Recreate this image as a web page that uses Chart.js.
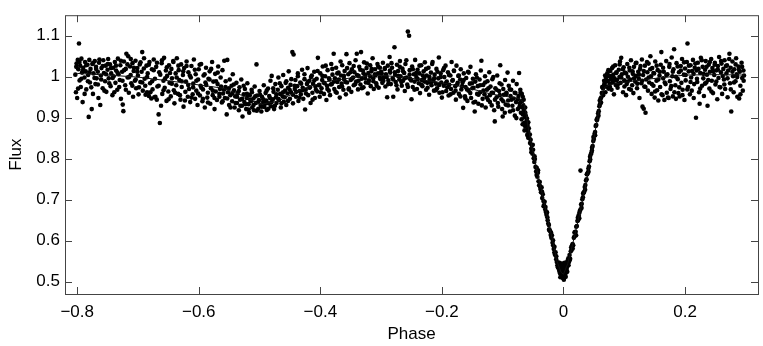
<!DOCTYPE html>
<html>
<head>
<meta charset="utf-8">
<script src="https://cdn.jsdelivr.net/npm/chart.js@4.4.1/dist/chart.umd.min.js"></script>
<style>
  html, body { margin: 0; padding: 0; background: #fff; }
  #wrap { width: 763px; height: 346px; }
</style>
</head>
<body>
<div id="wrap"><canvas id="chart"></canvas></div>
<script>
// tick labels / axis ranges
const xTicks = [-0.8, -0.6, -0.4, -0.2, 0, 0.2];
const yTicks = [0.5, 0.6, 0.7, 0.8, 0.9, 1, 1.1];

// fitted light curve (phase, flux)
const modelPhase = [-0.80, -0.75, -0.70, -0.65, -0.60, -0.56, -0.53, -0.50, -0.47, -0.43, -0.39, -0.35, -0.31, -0.27, -0.24, -0.20, -0.17, -0.14, -0.12, -0.10, -0.08, -0.07, -0.065, -0.061, -0.0586, -0.0504, -0.042, -0.034, -0.0258, -0.0176, -0.011, -0.004, 0, 0.007, 0.015, 0.0235, 0.0317, 0.040, 0.048, 0.0564, 0.062, 0.067, 0.075, 0.10, 0.13, 0.16, 0.20, 0.25, 0.297];
const modelFlux = [1.008, 1.004, 0.999, 0.99, 0.98, 0.972, 0.955, 0.932, 0.94, 0.97, 0.988, 0.997, 1.004, 1.0, 0.994, 0.985, 0.977, 0.966, 0.958, 0.953, 0.949, 0.945, 0.935, 0.905, 0.88, 0.817, 0.762, 0.708, 0.653, 0.598, 0.551, 0.523, 0.518, 0.544, 0.591, 0.645, 0.70, 0.762, 0.833, 0.903, 0.95, 0.973, 0.98, 0.986, 0.993, 0.997, 1.004, 1.005, 1.004];

// observed points, [phase, flux]
const obsEarly = [
  [-0.803,1.005],[-0.802,0.962],[-0.801,1.032],[-0.800,0.948],[-0.799,1.041],[-0.798,1.018],[-0.797,1.081],[-0.796,0.991],[-0.795,1.027],[-0.794,0.975],
  [-0.793,1.044],[-0.792,1.010],[-0.791,0.938],[-0.790,1.022],[-0.788,0.998],[-0.787,1.036],[-0.786,1.013],[-0.785,0.969],[-0.783,1.029],[-0.782,1.004],
  [-0.781,0.902],[-0.780,1.041],[-0.779,0.986],[-0.778,1.019],[-0.776,0.921],[-0.775,1.031],[-0.774,0.958],[-0.773,1.008],[-0.771,1.038],[-0.770,0.982],
  [-0.769,1.024],[-0.768,0.996],[-0.766,1.012],[-0.765,0.948],[-0.764,1.034],[-0.762,0.931],[-0.761,1.003],[-0.760,1.021],[-0.758,0.972],[-0.757,1.040],
  [-0.756,1.009],[-0.754,0.989],[-0.753,1.027],[-0.752,0.963],[-0.750,1.017],[-0.749,1.043],[-0.748,0.996],[-0.746,1.030],[-0.745,0.977],[-0.744,1.008],
  [-0.742,0.955],[-0.741,1.022],[-0.740,1.001],[-0.738,1.036],[-0.737,0.985],[-0.736,1.015],[-0.734,0.968],[-0.733,1.044],[-0.732,1.006],[-0.730,0.992],
  [-0.729,1.028],[-0.728,0.946],[-0.726,1.012],[-0.725,0.932],[-0.724,0.916],[-0.723,1.037],[-0.721,0.979],[-0.720,1.019],[-0.719,1.056],[-0.717,0.998],
  [-0.716,1.050],[-0.715,0.961],[-0.713,1.025],[-0.712,1.004],[-0.711,0.984],[-0.709,1.033],[-0.708,0.951],[-0.707,1.014],[-0.705,0.990],[-0.704,1.039],
  [-0.703,0.972],[-0.701,1.021],[-0.700,1.003],[-0.699,0.957],[-0.697,1.030],[-0.696,0.987],[-0.694,1.012],[-0.693,1.060],[-0.692,0.966],[-0.690,1.045],
  [-0.689,0.995],[-0.688,0.978],[-0.686,1.027],[-0.685,0.962],[-0.684,1.008],[-0.682,0.953],[-0.681,1.036],[-0.680,0.984],[-0.678,0.947],[-0.677,1.018],
  [-0.676,0.969],[-0.674,1.042],[-0.673,0.950],[-0.672,0.995],[-0.670,1.024],[-0.669,0.944],[-0.668,0.976],[-0.666,0.908],[-0.665,1.011],[-0.664,0.887],
  [-0.662,0.929],[-0.661,1.033],[-0.660,0.958],[-0.658,0.990],[-0.657,1.046],[-0.656,0.973],[-0.654,1.015],[-0.653,0.941],[-0.652,1.002],[-0.650,0.964],
  [-0.649,1.028],[-0.648,0.985],[-0.646,0.952],[-0.645,1.019],[-0.644,0.996],[-0.642,1.038],[-0.641,0.967],[-0.640,0.935],[-0.638,1.008],[-0.637,0.979],
  [-0.636,1.045],[-0.634,0.958],[-0.633,1.016],[-0.632,0.992],[-0.630,0.944],[-0.629,1.030],[-0.628,0.975],[-0.626,1.004],[-0.625,0.927],[-0.624,1.021],
  [-0.622,0.963],[-0.621,0.988],[-0.620,1.037],[-0.618,0.951],[-0.617,1.011],[-0.616,0.970],[-0.614,0.938],[-0.613,0.998],[-0.612,1.026],[-0.610,0.957],
  [-0.609,0.983],[-0.608,1.042],[-0.606,0.946],[-0.605,1.006],[-0.604,0.966],[-0.602,0.931],[-0.601,0.993],[-0.600,1.018],[-0.598,0.954],[-0.597,0.978],
  [-0.596,1.031],[-0.594,0.940],[-0.593,0.969],[-0.592,1.003],[-0.590,0.925],[-0.589,0.986],[-0.588,1.022],[-0.586,0.949],[-0.585,0.961],[-0.584,0.995],
  [-0.582,1.013],[-0.581,0.934],[-0.580,0.972],[-0.578,1.036],[-0.577,0.955],[-0.576,0.988],[-0.574,0.921],[-0.573,1.007],[-0.572,0.964],[-0.570,0.943],
  [-0.569,0.982],[-0.568,1.025],[-0.566,0.951],[-0.565,0.970],[-0.564,0.998],[-0.562,0.937],[-0.561,1.016],[-0.560,0.959],
  [-0.8015,1.024],[-0.7985,0.971],[-0.7962,1.036],[-0.7931,0.995],[-0.7904,1.015],[-0.7877,0.958],[-0.7851,1.028],[-0.7823,0.989],[-0.7796,1.011],[-0.7768,0.974],
  [-0.7741,1.033],[-0.7715,0.997],[-0.7688,1.019],[-0.7659,0.981],[-0.7634,1.042],[-0.7605,0.993],[-0.7579,1.026],[-0.7552,0.966],[-0.7524,1.006],[-0.7497,1.031],
  [-0.7471,0.984],[-0.7443,1.021],[-0.7416,0.997],[-0.7389,0.962],[-0.7362,1.027],[-0.7336,1.010],[-0.7308,0.975],[-0.7281,1.039],[-0.7254,0.990],[-0.7227,1.016],
  [-0.7199,0.968],[-0.7173,1.030],[-0.7146,0.999],[-0.7118,1.043],[-0.7092,0.978],[-0.7065,1.022],[-0.7037,0.993],[-0.7011,1.012],[-0.6983,0.974],[-0.6957,1.035],
  [-0.6929,0.986],[-0.6903,1.020],[-0.6875,0.956],[-0.6849,0.999],[-0.6821,1.029],[-0.6795,0.962],[-0.6767,0.989],[-0.6741,1.016],[-0.6713,0.951],[-0.6687,1.034],
  [-0.6659,0.978],[-0.6633,1.005],[-0.6605,1.040],[-0.6579,0.967],[-0.6551,0.996],[-0.6525,1.023],[-0.6497,0.945],[-0.6471,1.009],[-0.6443,0.983],[-0.6417,1.036],
  [-0.6389,0.961],[-0.6363,0.998],[-0.6335,1.027],[-0.6309,0.955],[-0.6281,0.989],[-0.6255,1.013],[-0.6227,0.942],[-0.6201,1.026],[-0.6173,0.980],[-0.6147,1.003],
  [-0.6119,0.949],[-0.6093,0.974],[-0.6065,1.017],[-0.6039,0.990],[-0.6011,0.959],[-0.5985,1.029],[-0.5957,0.973],[-0.5931,0.946],[-0.5903,1.006],[-0.5877,0.980],
  [-0.5849,0.937],[-0.5823,0.993],[-0.5795,1.019],[-0.5769,0.966],[-0.5741,0.948],[-0.5715,0.989],[-0.5687,1.010],[-0.5661,0.958],[-0.5633,0.976],[-0.5607,0.940]
];

const obsMid = [
  [-0.558,1.039],[-0.557,0.948],[-0.556,0.975],[-0.554,0.908],[-0.553,1.041],[-0.552,0.962],[-0.550,0.931],[-0.549,0.993],[-0.548,0.955],[-0.546,0.978],
  [-0.545,0.940],[-0.544,1.006],[-0.542,0.967],[-0.541,0.925],[-0.540,0.952],[-0.538,0.985],[-0.537,0.936],[-0.536,0.960],[-0.534,0.918],[-0.533,0.974],
  [-0.532,0.944],[-0.530,0.993],[-0.529,0.929],[-0.528,0.903],[-0.526,0.957],[-0.525,0.938],[-0.524,0.970],[-0.522,0.921],[-0.521,0.948],[-0.520,0.984],
  [-0.518,0.933],[-0.517,0.912],[-0.516,0.955],[-0.514,0.940],[-0.513,0.968],[-0.512,0.925],[-0.510,0.947],[-0.509,0.918],[-0.508,0.976],[-0.506,0.936],
  [-0.505,1.030],[-0.504,0.954],[-0.502,0.922],[-0.501,0.943],[-0.500,0.965],[-0.498,0.930],[-0.497,0.915],[-0.496,0.951],[-0.494,0.938],[-0.493,0.979],
  [-0.492,0.926],[-0.490,0.960],[-0.489,0.942],[-0.488,0.919],[-0.486,0.971],[-0.485,0.935],[-0.484,0.953],[-0.482,0.990],[-0.481,0.928],[-0.480,1.002],
  [-0.478,0.945],[-0.477,0.963],[-0.476,0.921],[-0.474,0.982],[-0.473,0.950],[-0.472,0.936],[-0.470,0.968],[-0.469,0.998],[-0.468,0.943],[-0.466,0.958],
  [-0.465,0.925],[-0.464,0.977],[-0.462,0.952],[-0.461,1.004],[-0.460,0.939],[-0.458,0.966],[-0.457,0.985],[-0.456,0.931],[-0.454,0.959],[-0.453,0.973],
  [-0.452,1.013],[-0.450,0.946],[-0.449,0.980],[-0.448,0.962],[-0.446,1.060],[-0.445,0.935],[-0.444,1.054],[-0.442,0.970],[-0.441,0.992],[-0.440,0.951],
  [-0.438,0.977],[-0.437,1.008],[-0.436,0.941],[-0.434,0.965],[-0.433,0.986],[-0.432,0.957],[-0.430,1.017],[-0.429,0.973],[-0.428,0.946],[-0.426,0.994],
  [-0.425,0.920],[-0.424,0.968],[-0.422,0.982],[-0.421,1.021],[-0.420,0.955],[-0.418,0.990],[-0.417,0.974],[-0.416,0.936],[-0.414,1.003],[-0.413,0.961],
  [-0.412,0.983],[-0.410,1.012],[-0.409,0.948],[-0.408,0.976],[-0.406,0.995],[-0.405,0.964],[-0.404,1.046],[-0.402,0.980],[-0.401,0.951],[-0.400,1.008],
  [-0.398,0.972],[-0.397,0.992],[-0.396,1.025],[-0.394,0.958],[-0.393,0.984],[-0.392,1.001],[-0.390,0.943],[-0.389,0.978],[-0.388,1.016],[-0.386,0.966],
  [-0.385,0.993],[-0.384,0.955],[-0.382,1.031],[-0.381,0.982],[-0.380,1.005],[-0.378,1.056],[-0.377,0.970],[-0.376,0.996],[-0.374,1.022],[-0.373,0.961],
  [-0.372,0.987],[-0.370,1.010],[-0.369,0.975],[-0.368,0.949],[-0.366,1.003],[-0.365,0.983],[-0.364,1.028],[-0.362,0.968],[-0.361,0.994],[-0.360,1.014],
  [-0.358,0.957],[-0.357,1.055],[-0.356,0.986],[-0.354,1.006],[-0.353,0.972],[-0.352,1.033],[-0.350,0.992],[-0.349,0.963],[-0.348,1.018],[-0.346,0.998],
  [-0.345,0.979],[-0.344,1.011],[-0.342,1.040],[-0.341,0.988],[-0.340,1.056],[-0.338,0.969],[-0.337,1.002],[-0.336,1.024],[-0.334,0.981],[-0.333,1.060],
  [-0.332,0.995],[-0.330,1.015],[-0.329,0.974],[-0.328,1.035],[-0.326,1.004],[-0.325,0.986],[-0.324,1.021],[-0.322,0.959],[-0.321,1.009],[-0.320,0.991],
  [-0.318,1.028],[-0.317,0.977],[-0.316,1.013],[-0.314,1.045],[-0.313,0.996],[-0.312,0.970],[-0.310,1.018],[-0.309,1.003],[-0.308,0.984],[-0.306,1.031],
  [-0.305,1.008],[-0.304,0.973],[-0.302,1.022],[-0.301,0.994],
  [-0.5585,0.968],[-0.5557,0.989],[-0.5531,0.947],[-0.5503,0.972],[-0.5477,0.925],[-0.5449,0.959],[-0.5423,0.981],[-0.5395,0.936],[-0.5369,0.951],[-0.5341,0.965],
  [-0.5315,0.929],[-0.5287,0.946],[-0.5261,0.978],[-0.5233,0.933],[-0.5207,0.958],[-0.5179,0.920],[-0.5153,0.944],[-0.5125,0.962],[-0.5099,0.931],[-0.5071,0.952],
  [-0.5045,0.917],[-0.5017,0.939],[-0.4991,0.956],[-0.4963,0.927],[-0.4937,0.945],[-0.4909,0.934],[-0.4883,0.966],[-0.4855,0.922],[-0.4829,0.948],[-0.4801,0.938],
  [-0.4775,0.972],[-0.4747,0.929],[-0.4721,0.957],[-0.4693,0.946],[-0.4667,0.984],[-0.4639,0.935],[-0.4613,0.962],[-0.4585,0.950],[-0.4559,0.989],[-0.4531,0.941],
  [-0.4505,0.968],[-0.4477,0.994],[-0.4451,0.956],[-0.4423,0.978],[-0.4397,0.963],[-0.4369,1.001],[-0.4343,0.949],[-0.4315,0.983],[-0.4289,0.967],[-0.4261,1.006],
  [-0.4235,0.959],[-0.4207,0.987],[-0.4181,0.973],[-0.4153,0.999],[-0.4127,0.944],[-0.4099,0.991],[-0.4073,0.968],[-0.4045,1.014],[-0.4019,0.979],[-0.3991,0.962],
  [-0.3965,1.002],[-0.3937,0.985],[-0.3911,1.027],[-0.3883,0.970],[-0.3857,0.996],[-0.3829,0.981],[-0.3803,1.019],[-0.3775,0.988],[-0.3749,0.963],[-0.3721,1.008],
  [-0.3695,0.993],[-0.3667,1.037],[-0.3641,0.976],[-0.3613,1.002],[-0.3587,0.987],[-0.3559,1.021],[-0.3533,0.969],[-0.3505,1.011],[-0.3479,0.995],[-0.3451,1.026],
  [-0.3425,0.982],[-0.3397,1.004],[-0.3371,0.990],[-0.3343,1.017],[-0.3317,0.972],[-0.3289,1.008],[-0.3263,0.996],[-0.3235,1.032],[-0.3209,0.985],[-0.3181,1.001],
  [-0.3155,1.019],[-0.3127,0.989],[-0.3101,1.006],[-0.3073,0.978],[-0.3047,1.024],[-0.3019,0.998]
];

const obsLate = [
  [-0.300,1.012],[-0.298,0.985],[-0.297,1.034],[-0.296,0.998],[-0.294,1.019],[-0.293,0.976],[-0.292,1.006],[-0.290,0.950],[-0.289,1.027],[-0.288,0.991],
  [-0.286,1.048],[-0.285,1.010],[-0.284,0.982],[-0.282,1.022],[-0.281,0.996],[-0.280,0.951],[-0.278,1.072],[-0.277,1.004],[-0.276,0.987],[-0.274,1.029],
  [-0.273,0.969],[-0.272,1.014],[-0.270,0.993],[-0.269,1.038],[-0.268,1.001],[-0.266,0.978],[-0.265,1.020],[-0.264,0.990],[-0.262,1.009],[-0.261,0.965],
  [-0.260,1.031],[-0.258,0.998],[-0.257,0.981],[-0.256,1.110],[-0.254,1.100],[-0.253,1.016],[-0.252,0.994],[-0.250,0.945],[-0.249,1.025],[-0.248,0.975],
  [-0.246,1.006],[-0.245,0.988],[-0.244,1.041],[-0.242,0.999],[-0.241,0.970],[-0.240,1.017],[-0.238,0.984],[-0.237,1.008],[-0.236,0.960],[-0.234,1.028],
  [-0.233,0.992],[-0.232,0.977],[-0.230,1.013],[-0.229,0.997],[-0.228,1.035],[-0.226,0.968],[-0.225,1.003],[-0.224,0.985],[-0.222,1.022],[-0.221,0.956],
  [-0.220,0.994],[-0.218,1.010],[-0.217,0.979],[-0.216,1.031],[-0.214,0.990],[-0.213,0.966],[-0.212,1.005],[-0.210,0.983],[-0.209,1.019],[-0.208,0.972],
  [-0.206,0.996],[-0.205,1.047],[-0.204,0.961],[-0.202,1.008],[-0.201,0.986],[-0.200,0.949],[-0.198,1.016],[-0.197,0.978],[-0.196,0.999],[-0.194,1.027],
  [-0.193,0.965],[-0.192,0.988],[-0.190,1.011],[-0.189,0.954],[-0.188,0.980],[-0.186,1.003],[-0.185,0.970],[-0.184,1.036],[-0.182,0.992],[-0.181,0.961],
  [-0.180,1.014],[-0.178,0.977],[-0.177,0.944],[-0.176,1.027],[-0.174,0.985],[-0.173,1.002],[-0.172,0.958],[-0.170,0.993],[-0.169,1.018],[-0.168,0.969],
  [-0.166,0.986],[-0.165,0.924],[-0.164,1.008],[-0.162,0.952],[-0.161,0.975],[-0.160,0.997],[-0.158,0.941],[-0.157,1.012],[-0.156,0.966],[-0.154,0.983],
  [-0.153,1.024],[-0.152,0.948],[-0.150,0.972],[-0.149,0.995],[-0.148,0.937],[-0.146,0.915],[-0.145,0.988],[-0.144,1.006],[-0.142,0.958],[-0.141,0.977],
  [-0.140,0.934],[-0.138,0.993],[-0.137,0.962],[-0.136,1.015],[-0.135,1.039],[-0.133,0.946],[-0.132,0.980],[-0.130,0.957],[-0.129,1.001],[-0.128,0.925],
  [-0.126,0.968],[-0.125,0.989],[-0.124,0.943],[-0.122,1.011],[-0.121,0.955],[-0.120,0.976],[-0.118,0.930],[-0.117,0.994],[-0.116,0.961],[-0.114,0.918],
  [-0.113,0.891],[-0.112,0.972],[-0.110,0.950],[-0.109,1.003],[-0.108,0.936],[-0.106,0.965],[-0.105,0.984],[-0.104,1.028],[-0.102,0.945],[-0.101,0.921],
  [-0.100,0.903],[-0.099,0.970],[-0.098,0.956],[-0.096,0.992],[-0.095,0.932],[-0.094,0.961],[-0.092,1.010],[-0.091,0.942],[-0.090,0.978],[-0.088,0.915],
  [-0.087,0.953],[-0.086,0.968],[-0.084,0.929],[-0.083,0.990],[-0.082,0.947],[-0.080,0.905],[-0.079,0.960],[-0.078,0.938],[-0.077,0.982],[-0.075,0.921],
  [-0.074,0.953],[-0.073,1.009],[-0.072,0.935],[-0.071,0.968],
  [-0.2991,1.008],[-0.2963,0.990],[-0.2937,1.021],[-0.2909,0.999],[-0.2883,0.982],[-0.2855,1.015],[-0.2829,1.033],[-0.2801,0.993],[-0.2775,1.011],[-0.2747,0.979],
  [-0.2721,1.002],[-0.2693,1.024],[-0.2667,0.987],[-0.2639,1.013],[-0.2613,0.996],[-0.2585,1.040],[-0.2559,0.975],[-0.2531,1.005],[-0.2505,0.991],[-0.2477,1.018],
  [-0.2451,0.968],[-0.2423,1.009],[-0.2397,0.994],[-0.2369,1.027],[-0.2343,0.981],[-0.2315,1.003],[-0.2289,0.988],[-0.2261,1.019],[-0.2235,0.973],[-0.2207,1.000],
  [-0.2181,0.985],[-0.2153,1.036],[-0.2127,0.996],[-0.2099,0.967],[-0.2073,1.012],[-0.2045,0.980],[-0.2019,0.999],[-0.1991,0.962],[-0.1965,1.021],[-0.1937,0.984],
  [-0.1911,0.974],[-0.1883,1.004],[-0.1857,0.957],[-0.1829,0.990],[-0.1803,1.015],[-0.1775,0.966],[-0.1749,0.981],[-0.1721,1.003],[-0.1695,0.952],[-0.1667,0.977],
  [-0.1641,0.992],[-0.1613,0.947],[-0.1587,0.969],[-0.1559,1.010],[-0.1533,0.960],[-0.1505,0.984],[-0.1479,0.973],[-0.1451,0.939],[-0.1425,0.998],[-0.1397,0.956],
  [-0.1371,0.979],[-0.1343,0.930],[-0.1317,0.966],[-0.1289,0.986],[-0.1263,0.949],[-0.1235,0.972],[-0.1209,0.938],[-0.1181,0.961],[-0.1155,0.999],[-0.1127,0.944],
  [-0.1101,0.968],[-0.1073,0.927],[-0.1047,0.955],[-0.1019,0.981],[-0.0991,0.940],[-0.0965,0.912],[-0.0937,0.958],[-0.0911,0.930],[-0.0883,0.969],[-0.0857,0.944],
  [-0.0829,0.918],[-0.0801,0.961],[-0.0775,0.899],[-0.0749,0.945],[-0.0723,0.927],[-0.0707,0.961]
];

const obsEclipse = [
  [-0.070,0.912],[-0.069,0.940],[-0.069,0.896],[-0.068,0.925],[-0.067,0.951],[-0.067,0.908],[-0.066,0.930],[-0.065,0.887],[-0.065,0.918],[-0.064,0.901],
  [-0.063,0.925],[-0.063,0.879],[-0.062,0.905],[-0.061,0.891],[-0.060,0.870],[-0.060,0.898],[-0.059,0.882],[-0.058,0.866],[-0.058,0.851],[-0.057,0.874],
  [-0.056,0.850],[-0.055,0.838],[-0.054,0.846],[-0.053,0.824],[-0.052,0.833],[-0.051,0.812],[-0.050,0.822],[-0.049,0.801],[-0.048,0.792],[-0.047,0.799],
  [-0.046,0.780],[-0.045,0.769],[-0.044,0.778],[-0.043,0.756],[-0.042,0.766],[-0.041,0.745],[-0.040,0.735],[-0.039,0.743],[-0.038,0.726],[-0.037,0.718],
  [-0.036,0.730],[-0.035,0.704],[-0.034,0.713],[-0.033,0.697],[-0.032,0.687],[-0.031,0.695],[-0.030,0.676],[-0.029,0.670],[-0.028,0.663],[-0.027,0.669],
  [-0.026,0.650],[-0.025,0.642],[-0.024,0.638],[-0.023,0.627],[-0.022,0.623],[-0.021,0.614],[-0.020,0.607],[-0.019,0.613],[-0.018,0.595],[-0.017,0.589],
  [-0.016,0.580],[-0.015,0.571],[-0.014,0.566],[-0.013,0.572],[-0.012,0.555],[-0.011,0.548],[-0.010,0.540],[-0.009,0.547],[-0.008,0.533],[-0.007,0.527],
  [-0.006,0.538],[-0.006,0.521],[-0.005,0.530],[-0.004,0.515],[-0.004,0.526],[-0.003,0.540],[-0.003,0.518],[-0.002,0.524],[-0.002,0.533],[-0.001,0.509],
  [-0.001,0.521],[0.000,0.528],[0.000,0.514],[0.001,0.536],[0.001,0.520],[0.002,0.511],[0.002,0.527],[0.003,0.532],[0.003,0.519],[0.004,0.542],
  [0.004,0.525],[0.005,0.530],[0.005,0.547],[0.006,0.536],[0.007,0.552],[0.007,0.541],[0.008,0.557],[0.009,0.548],[0.010,0.565],[0.011,0.556],
  [0.012,0.574],[0.013,0.577],[0.014,0.588],[0.015,0.592],[0.016,0.589],[0.017,0.607],[0.018,0.610],[0.019,0.621],[0.020,0.622],[0.021,0.634],
  [0.022,0.636],[0.023,0.648],[0.024,0.650],[0.025,0.662],[0.026,0.655],[0.027,0.673],[0.028,0.771],[0.028,0.676],[0.029,0.688],[0.030,0.690],
  [0.031,0.701],[0.032,0.706],[0.033,0.717],[0.034,0.719],[0.035,0.731],[0.036,0.736],[0.037,0.747],[0.038,0.750],[0.039,0.762],[0.040,0.766],
  [0.041,0.776],[0.042,0.781],[0.043,0.794],[0.044,0.798],[0.045,0.811],[0.046,0.815],[0.047,0.827],[0.048,0.831],[0.049,0.843],[0.050,0.848],
  [0.051,0.860],[0.052,0.865],[0.053,0.880],[0.054,0.882],[0.055,0.894],[0.056,0.899],[0.057,0.911],[0.058,0.916],[0.059,0.928],[0.060,0.933],
  [0.061,0.946],[0.062,0.949],[0.063,0.960],[0.064,0.961],[0.065,0.972],[0.066,0.974],[0.067,0.981],
  [-0.0685,0.958],[-0.0672,0.884],[-0.0655,0.944],[-0.0641,0.869],[-0.0628,0.912],[-0.0596,0.858],[-0.0579,0.889],[-0.0553,0.859],[-0.0528,0.816],[-0.0505,0.834],
  [-0.0476,0.806],[-0.0442,0.760],[-0.0418,0.772],[-0.0386,0.733],[-0.0352,0.719],[-0.0327,0.684],[-0.0296,0.682],[-0.0265,0.657],[-0.0238,0.627],[-0.0205,0.620],
  [-0.0172,0.601],[-0.0148,0.585],[-0.0118,0.562],[-0.0092,0.535],[-0.0066,0.546],[-0.0051,0.511],[-0.0024,0.544],[0.0006,0.505],[0.0018,0.546],[0.0037,0.512],
  [0.0062,0.524],[0.0083,0.540],[0.0104,0.553],[0.0127,0.584],[0.0152,0.581],[0.0181,0.620],[0.0208,0.613],[0.0236,0.656],[0.0262,0.668],[0.0297,0.680],
  [0.0323,0.715],[0.0356,0.724],[0.0384,0.762],[0.0412,0.768],[0.0437,0.805],[0.0468,0.820],[0.0493,0.853],[0.0521,0.857],[0.0548,0.896],[0.0576,0.905],
  [0.0597,0.942],[0.0618,0.937],[0.0637,0.975],[0.0652,0.955],[0.0669,0.990]
];

const obsAfter = [
  [0.068,0.985],[0.069,0.962],[0.070,0.998],[0.071,0.976],[0.072,1.008],[0.073,0.990],[0.074,0.971],[0.075,1.002],[0.076,0.983],[0.077,1.014],
  [0.078,0.994],[0.079,0.968],[0.080,1.021],[0.081,0.987],[0.082,1.005],[0.083,0.957],[0.084,0.996],[0.085,1.028],[0.086,0.980],[0.087,1.011],
  [0.088,0.992],[0.089,0.973],[0.091,1.017],[0.092,0.999],[0.093,1.037],[0.094,0.985],[0.095,1.046],[0.096,1.006],[0.098,0.962],[0.099,1.023],
  [0.100,0.991],[0.101,1.010],[0.103,0.955],[0.104,0.982],[0.105,1.031],[0.106,1.000],[0.108,0.970],[0.109,1.015],[0.110,0.993],[0.111,1.040],
  [0.113,0.979],[0.114,1.007],[0.115,0.960],[0.116,1.024],[0.118,0.988],[0.119,1.002],[0.120,1.034],[0.121,0.972],[0.123,1.012],[0.124,0.995],
  [0.125,0.948],[0.126,1.019],[0.128,0.984],[0.129,1.042],[0.130,0.927],[0.131,1.004],[0.132,0.922],[0.133,0.976],[0.134,1.027],[0.135,0.912],
  [0.136,0.993],[0.138,1.011],[0.139,0.966],[0.140,1.032],[0.141,0.986],[0.143,1.050],[0.144,1.001],[0.145,0.958],[0.146,1.021],[0.148,0.978],
  [0.149,1.008],[0.150,0.949],[0.151,1.037],[0.153,0.990],[0.154,0.967],[0.155,1.016],[0.156,0.942],[0.158,1.003],[0.159,0.975],[0.160,1.029],
  [0.161,1.060],[0.163,0.955],[0.164,0.996],[0.165,1.012],[0.166,0.943],[0.168,0.982],[0.169,1.038],[0.170,0.961],[0.171,1.006],[0.173,0.948],
  [0.174,1.024],[0.175,0.989],[0.176,0.970],[0.178,1.047],[0.179,1.001],[0.180,0.952],[0.181,1.018],[0.182,1.067],[0.184,0.979],[0.185,0.946],
  [0.186,1.033],[0.188,0.994],[0.189,0.960],[0.190,1.011],[0.191,0.952],[0.193,1.026],[0.194,0.985],[0.195,1.043],[0.196,0.968],[0.198,1.005],
  [0.199,0.943],[0.200,1.020],[0.201,0.991],[0.203,1.036],[0.204,1.081],[0.205,0.975],[0.206,1.013],[0.208,0.957],[0.209,1.028],[0.210,0.998],
  [0.211,0.966],[0.213,1.041],[0.214,1.007],[0.215,0.982],[0.216,1.022],[0.218,0.900],[0.219,1.015],[0.220,0.987],[0.221,1.034],[0.223,0.962],
  [0.224,0.934],[0.225,1.009],[0.226,1.046],[0.228,0.978],[0.229,1.024],[0.230,0.996],[0.231,0.953],[0.233,1.017],[0.234,1.038],[0.235,0.986],
  [0.236,1.005],[0.237,0.929],[0.239,1.029],[0.240,0.971],[0.241,1.012],[0.243,1.043],[0.244,0.990],[0.245,1.021],[0.246,0.960],[0.248,1.004],
  [0.249,1.034],[0.250,0.981],[0.251,1.015],[0.253,0.945],[0.254,1.026],[0.255,0.997],[0.256,1.048],[0.258,0.974],[0.259,1.011],[0.260,1.032],
  [0.261,0.958],[0.263,1.019],[0.264,0.993],[0.265,1.040],[0.266,0.970],[0.268,1.008],[0.269,1.028],[0.270,0.950],[0.271,1.015],[0.273,1.056],
  [0.274,0.984],[0.275,1.022],[0.276,0.915],[0.278,1.037],[0.279,1.001],[0.280,0.962],[0.281,1.018],[0.283,0.989],[0.284,1.045],[0.285,1.006],
  [0.286,0.951],[0.288,1.025],[0.289,0.947],[0.290,1.012],[0.291,0.978],[0.293,1.034],[0.294,0.997],[0.295,0.966],[0.296,1.015],[0.297,1.003],
  [0.0685,1.003],[0.0712,0.989],[0.0738,1.016],[0.0765,0.975],[0.0791,1.001],[0.0818,1.025],[0.0844,0.991],[0.0871,1.009],[0.0897,0.982],[0.0924,1.030],
  [0.0950,0.998],[0.0977,1.018],[0.1003,0.976],[0.1030,1.008],[0.1056,0.988],[0.1083,1.022],[0.1109,0.968],[0.1136,1.013],[0.1162,0.996],[0.1189,1.033],
  [0.1215,0.983],[0.1242,1.005],[0.1268,1.026],[0.1295,0.990],[0.1321,1.014],[0.1348,0.975],[0.1374,1.036],[0.1401,0.998],[0.1427,1.018],[0.1454,0.982],
  [0.1480,1.009],[0.1507,0.964],[0.1533,1.027],[0.1560,0.993],[0.1586,1.012],[0.1613,0.957],[0.1639,1.022],[0.1666,0.986],[0.1692,1.004],[0.1719,0.949],
  [0.1745,1.031],[0.1772,0.977],[0.1798,1.012],[0.1825,0.962],[0.1851,1.000],[0.1878,1.025],[0.1904,0.974],[0.1931,1.015],[0.1957,0.955],[0.1984,1.035],
  [0.2010,1.004],[0.2037,0.969],[0.2063,1.027],[0.2090,0.987],[0.2116,1.014],[0.2143,0.948],[0.2169,1.032],[0.2196,0.995],[0.2222,1.019],[0.2249,0.971],
  [0.2275,1.040],[0.2302,1.007],[0.2328,0.983],[0.2355,1.024],[0.2381,0.992],[0.2408,1.036],[0.2434,0.964],[0.2461,1.013],[0.2487,1.029],[0.2514,0.988],
  [0.2540,1.017],[0.2567,0.975],[0.2593,1.038],[0.2620,1.002],[0.2646,0.981],[0.2673,1.026],[0.2699,0.996],[0.2726,1.043],[0.2752,0.969],[0.2779,1.012],
  [0.2805,0.986],[0.2832,1.030],[0.2858,0.999],[0.2885,1.017],[0.2911,0.957],[0.2938,1.024],[0.2964,0.990]
];

const observed = [...obsEarly, ...obsMid, ...obsLate, ...obsEclipse, ...obsAfter]
  .map(p => ({ x: p[0], y: p[1] }));
const model = modelPhase.map((p, i) => ({ x: p, y: modelFlux[i] }));

const FONT = { family: "'Liberation Sans', Arial, Helvetica, sans-serif", size: 17 };
const fmt = v => String(Math.round(v * 10) / 10).replace("-", "\u2212");

// matlab style box with inward ticks on all four sides
const boxTicks = {
  id: "boxTicks",
  afterDraw(c) {
    const ctx = c.ctx;
    const a = c.chartArea;
    const sx = c.scales.x, sy = c.scales.y;
    ctx.save();
    ctx.strokeStyle = "#444";
    ctx.lineWidth = 1;
    ctx.strokeRect(a.left + 0.5, a.top + 0.5, a.right - a.left, a.bottom - a.top);
    ctx.beginPath();
    xTicks.forEach(v => {
      const px = Math.round(sx.getPixelForValue(v)) + 0.5;
      ctx.moveTo(px, a.bottom); ctx.lineTo(px, a.bottom - 7);
      ctx.moveTo(px, a.top); ctx.lineTo(px, a.top + 7);
    });
    yTicks.forEach(v => {
      const py = Math.round(sy.getPixelForValue(v)) + 0.5;
      ctx.moveTo(a.left, py); ctx.lineTo(a.left + 7, py);
      ctx.moveTo(a.right, py); ctx.lineTo(a.right - 7, py);
    });
    ctx.stroke();
    ctx.restore();
  }
};

new Chart(document.getElementById("chart"), {
  type: "scatter",
  data: {
    datasets: [
      {
        label: "model",
        data: model,
        showLine: true,
        borderColor: "#111",
        borderWidth: 1,
        pointRadius: 0,
        tension: 0
      },
      {
        label: "data",
        data: observed,
        backgroundColor: "#000",
        borderWidth: 0,
        pointRadius: 2.3,
        pointHoverRadius: 2.3
      }
    ]
  },
  options: {
    responsive: true,
    maintainAspectRatio: false,
    animation: false,
    events: [],
    layout: { padding: { top: 5, right: 5, left: 0, bottom: 0 } },
    plugins: { legend: { display: false }, tooltip: { enabled: false } },
    scales: {
      x: {
        type: "linear",
        min: -0.82,
        max: 0.32,
        afterBuildTicks: s => { s.ticks = xTicks.map(v => ({ value: v })); },
        afterFit: s => { s.height = 52; },
        grid: { display: false, drawTicks: false },
        border: { display: false },
        ticks: { color: "#000", font: FONT, padding: 8, maxRotation: 0, autoSkip: false, callback: fmt },
        title: { display: true, text: "Phase", color: "#000", font: FONT, padding: { top: 0, bottom: 1 } }
      },
      y: {
        type: "linear",
        min: 0.47,
        max: 1.15,
        afterBuildTicks: s => { s.ticks = yTicks.map(v => ({ value: v })); },
        afterFit: s => { s.width = 65; },
        grid: { display: false, drawTicks: false },
        border: { display: false },
        ticks: { color: "#000", font: FONT, padding: 5, autoSkip: false, callback: fmt },
        title: { display: true, text: "Flux", color: "#000", font: FONT, padding: { top: 6, bottom: 0 } }
      }
    }
  },
  plugins: [boxTicks]
});
</script>
</body>
</html>
